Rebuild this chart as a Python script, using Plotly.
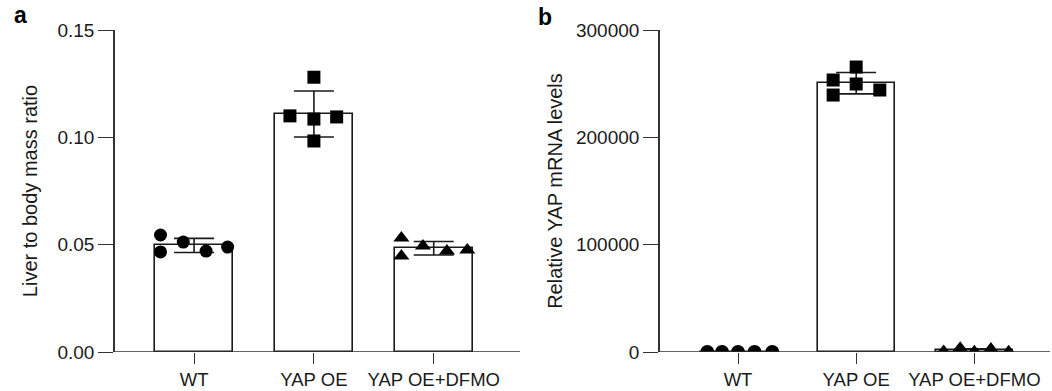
import numpy as np
import plotly.graph_objects as go

# ---------------- data ----------------
categories = ["WT", "YAP OE", "YAP OE+DFMO"]

# Panel a: liver to body mass ratio (individual animals)
a_wt = [0.0545, 0.0466, 0.0512, 0.0470, 0.0489]
a_yap = [0.1100, 0.1280, 0.1085, 0.0983, 0.1095]
a_dfmo = [0.0531, 0.0447, 0.0494, 0.0470, 0.0475]

# Panel b: relative YAP mRNA levels
b_wt = [0.8, 1.1, 1.0, 0.9, 1.2]
b_yap = [253400, 239400, 265500, 249700, 244100]
b_dfmo = [500, 3500, 300, 2800, 200]

# horizontal scatter of the points inside each bar (category units)
jit_a = [
    [-0.28, -0.28, -0.09, 0.10, 0.28],
    [-0.20, 0.0, 0.0, 0.0, 0.19],
    [-0.27, -0.27, -0.09, 0.11, 0.28],
]
jit_b = [
    [-0.26, -0.135, 0.0, 0.14, 0.29],
    [-0.195, -0.195, 0.0, 0.0, 0.20],
    [-0.26, -0.12, 0.0, 0.14, 0.29],
]

a_ticks = [0, 0.05, 0.10, 0.15]
b_ticks = [0, 100000, 200000, 300000]

symbols = ["circle", "square", "triangle-up"]

# ---------------- layout helpers ----------------
W, H = 1052, 391
FONT = "Liberation Sans, Arial, sans-serif"
INK = "#1a1a1a"
LINE = "#333333"

def px_x(p):
    return p / W

def px_y(p):
    return 1 - p / H

fig = go.Figure()

groups_a = [a_wt, a_yap, a_dfmo]
groups_b = [b_wt, b_yap, b_dfmo]

for panel, groups, jit, xa, ya, msz in [
    ("a", groups_a, jit_a, "x", "y", [13, 13, 14]),
    ("b", groups_b, jit_b, "x2", "y2", [14, 13, 14]),
]:
    means = [float(np.mean(g)) for g in groups]
    sds = [float(np.std(g, ddof=1)) for g in groups]
    fig.add_trace(go.Bar(
        x=[0, 1, 2], y=means, width=0.65,
        marker=dict(color="white", line=dict(color=INK, width=1.6)),
        error_y=dict(type="data", array=sds, visible=True, color=INK,
                     thickness=1.6, width=20),
        xaxis=xa, yaxis=ya, showlegend=False, hoverinfo="skip",
    ))
    for i, g in enumerate(groups):
        fig.add_trace(go.Scatter(
            x=[i + d for d in jit[i]], y=g, mode="markers",
            marker=dict(symbol=symbols[i], size=msz[i], color="black",
                        line=dict(width=0)),
            xaxis=xa, yaxis=ya, showlegend=False,
        ))

y_common = dict(
    linecolor=LINE, linewidth=1.6, showline=True,
    ticks="outside", ticklen=15, tickwidth=1.4, tickcolor=LINE,
    showgrid=False, zeroline=False, automargin=False,
    tickfont=dict(family=FONT, size=19, color=INK),
)
x_common = dict(
    showline=False,
    ticks="outside", ticklen=11, tickwidth=1.4, tickcolor=LINE,
    showgrid=False, zeroline=False, automargin=False,
    tickfont=dict(family=FONT, size=18.5, color=INK),
)

fig.update_layout(
    width=W, height=H,
    margin=dict(l=0, r=0, t=0, b=0),
    paper_bgcolor="white", plot_bgcolor="white",
    bargap=0,
    font=dict(family=FONT, size=19, color=INK),
    xaxis=dict(domain=[px_x(115), px_x(520)], range=[-0.66, 2.72],
               tickvals=[0, 1, 2], ticktext=categories, anchor="y",
               **x_common),
    yaxis=dict(domain=[px_y(352), px_y(30)], range=[0, 0.15],
               tickvals=a_ticks, tickformat=".2f", anchor="x",
               title=dict(text="Liver to body mass ratio",
                          font=dict(family=FONT, size=20, color=INK),
                          standoff=14),
               **y_common),
    xaxis2=dict(domain=[px_x(660), px_x(1050)], range=[-0.66, 2.64],
                tickvals=[0, 1, 2], ticktext=categories, anchor="y2",
                **x_common),
    yaxis2=dict(domain=[px_y(352), px_y(30)], range=[0, 300000],
                tickvals=b_ticks, tickformat="d", anchor="x2",
                title=dict(text="Relative YAP mRNA levels",
                           font=dict(family=FONT, size=20, color=INK),
                           standoff=8),
                **y_common),
    shapes=[
        dict(type="line", xref="x domain", yref="y", x0=0, x1=1, y0=0, y1=0,
             line=dict(color=LINE, width=1.6)),
        dict(type="line", xref="x2 domain", yref="y2", x0=0, x1=1, y0=0, y1=0,
             line=dict(color=LINE, width=1.6)),
    ],
    annotations=[
        dict(text="<b>a</b>", x=px_x(12), y=px_y(30), xref="paper", yref="paper",
             xanchor="left", yanchor="bottom", showarrow=False,
             font=dict(family=FONT, size=23, color="black")),
        dict(text="<b>b</b>", x=px_x(536), y=px_y(32), xref="paper", yref="paper",
             xanchor="left", yanchor="bottom", showarrow=False,
             font=dict(family=FONT, size=23, color="black")),
    ],
)

fig.write_html("out.html", config={"displayModeBar": False},
               post_script="document.body.style.margin='0';")
